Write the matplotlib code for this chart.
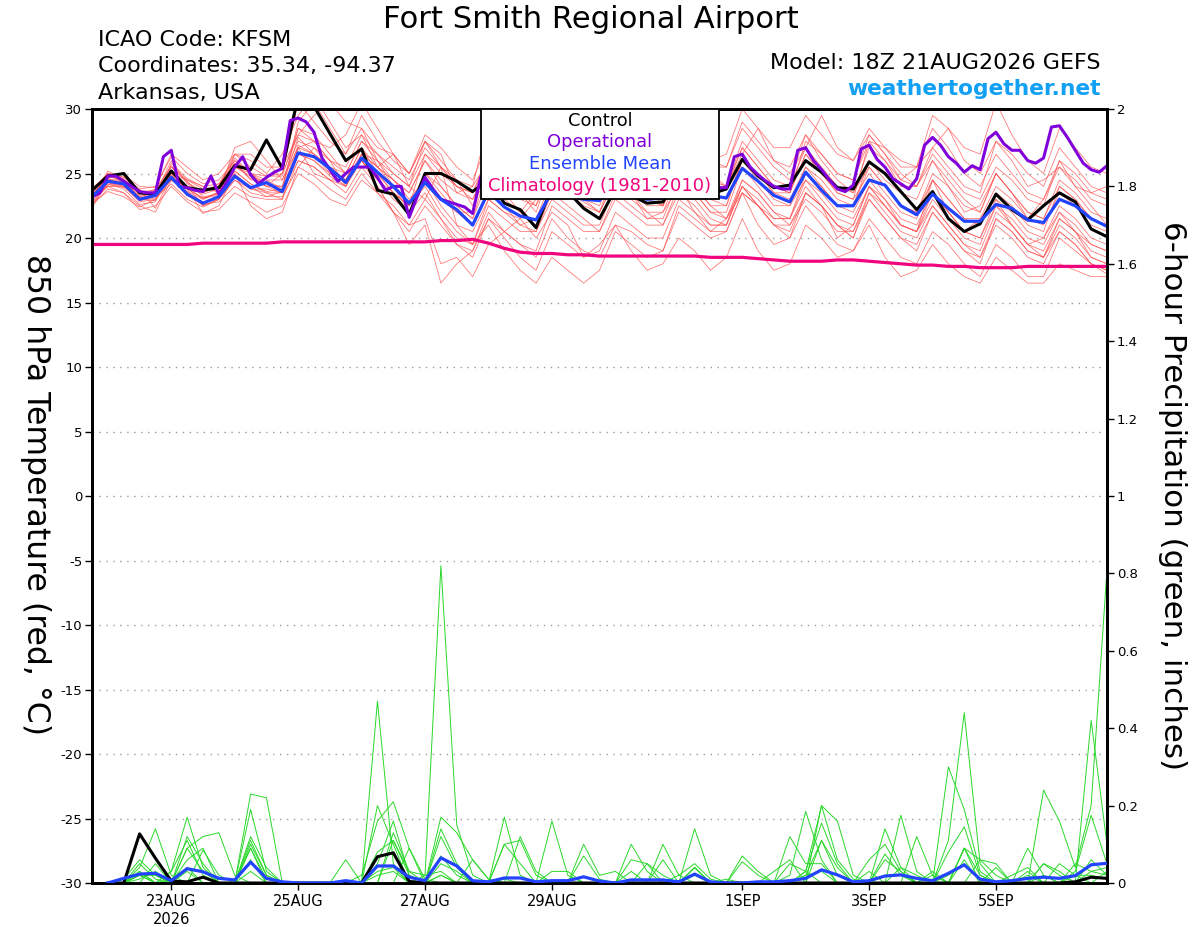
import numpy as np
import matplotlib
matplotlib.use("Agg")
import matplotlib.pyplot as plt
from matplotlib.patches import Rectangle
from datetime import datetime

# ---------------- data ----------------
run_time = datetime(2026, 8, 21, 18)
tick_dates = [datetime(2026, 8, 23), datetime(2026, 8, 25), datetime(2026, 8, 27),
              datetime(2026, 8, 29), datetime(2026, 9, 1), datetime(2026, 9, 3),
              datetime(2026, 9, 5)]
tick_labels = ["23AUG\n2026", "25AUG", "27AUG", "29AUG", "1SEP", "3SEP", "5SEP"]

# 850 hPa temperature, 6-hourly, 0..384 h
control = [23.7,24.8,25.0,23.5, 23.4,25.2,23.9,23.7, 23.9,25.6,25.3,27.6, 25.4,31.0,30.2,28.1,
           26.0,26.9,23.7,23.4, 21.8,25.0,25.0,24.4, 23.6,24.5,22.7,22.2, 20.8,24.0,23.6,22.3,
           21.5,23.8,23.3,22.7, 22.8,24.8,24.0,23.4, 23.8,26.1,24.8,23.9, 24.1,26.0,25.1,23.9,
           23.8,25.9,25.0,23.6, 22.2,23.6,21.5,20.5, 21.1,23.4,22.2,21.4, 22.5,23.5,22.8,20.7,
           20.1]
ens_mean = [23.2,24.4,24.2,23.0, 23.3,24.7,23.4,22.7, 23.2,24.8,23.9,24.3, 23.6,26.6,26.3,25.4,
            24.3,26.2,25.1,24.0, 22.7,24.3,23.0,22.2, 21.0,23.6,22.4,21.7, 21.4,23.6,23.3,23.0,
            22.9,24.3,23.5,23.0, 23.1,24.8,24.0,23.3, 23.1,25.4,24.4,23.3, 22.8,25.1,23.7,22.5,
            22.5,24.5,24.1,22.5, 21.8,23.4,22.3,21.3, 21.3,22.6,22.3,21.4, 21.2,23.0,22.5,21.5,
            20.9]
climatology = [19.5,19.5,19.5,19.5,19.5,19.5,19.5,19.6, 19.6,19.6,19.6,19.6,19.7,19.7,19.7,19.7,
               19.7,19.7,19.7,19.7,19.7,19.7,19.8,19.8, 19.9,19.6,19.2,18.9,18.8,18.8,18.7,18.7,
               18.6,18.6,18.6,18.6,18.6,18.6,18.6,18.5, 18.5,18.5,18.4,18.3,18.2,18.2,18.2,18.3,
               18.3,18.2,18.1,18.0,17.9,17.9,17.8,17.8, 17.7,17.7,17.7,17.8,17.8,17.8,17.8,17.8,
               17.8]
# operational run, 3-hourly
operational = [23.2,23.5,24.8,24.8,24.4,24.0,23.6,23.5, 23.5,26.3,26.8,24.0,23.9,23.7,23.6,24.8,
               23.4,24.3,25.5,26.3,24.9,24.2,24.7,25.1, 25.4,29.1,29.3,29.0,28.2,26.2,25.3,24.4,
               25.0,25.5,25.5,25.5,24.7,23.7,24.0,24.0, 21.6,23.2,24.7,23.8,23.0,22.8,22.6,22.4,
               21.9,24.7,25.0,25.2,24.8,24.5,24.0,23.8, 23.6,25.5,26.0,25.4,24.8,24.4,24.0,23.8,
               23.7,25.2,25.8,25.3,24.7,24.2,23.9,23.6, 23.5,25.0,25.6,25.2,24.6,24.2,23.9,23.9,
               23.9,26.3,26.5,25.5,24.9,24.4,24.0,23.8, 23.8,26.8,27.0,26.0,25.3,24.5,23.8,23.6,
               24.1,26.9,27.2,26.1,25.5,24.6,24.2,23.8, 24.6,27.2,27.8,27.2,26.3,25.8,25.1,25.6,
               25.3,27.7,28.2,27.3,26.8,26.8,26.0,25.8, 26.2,28.6,28.7,27.8,26.8,25.8,25.3,25.1,
               25.6]

# ensemble member temperatures (6-hourly)
mem01 = [23.0,25.2,24.5,23.1, 23.4,26.0,24.2,23.5, 24.0,26.5,25.5,24.8, 25.0,30.5,29.0,27.5, 26.5,28.5,26.0,24.5, 23.5,26.0,24.0,22.5, 21.5,24.5,23.0,22.0, 21.0,24.0,23.5,22.8, 22.0,25.5,24.5,23.0, 22.5,25.0,24.0,23.0, 22.5,26.0,25.0,23.5, 23.0,25.5,24.0,22.5, 22.0,24.5,23.0,21.5, 21.0,23.5,22.0,20.5, 20.0,22.5,21.5,20.0, 19.5,22.0,21.0,19.5, 19.0]
mem02 = [22.5,23.8,23.5,22.2, 22.5,24.0,22.8,22.0, 22.2,23.5,22.8,22.0, 22.5,25.0,24.2,23.0, 22.5,24.5,23.5,22.0, 20.5,22.5,21.0,19.5, 19.0,22.0,20.5,19.5, 18.5,21.5,20.0,19.0, 18.5,21.0,20.5,19.5, 19.0,22.5,21.5,20.5, 20.5,23.5,22.5,21.0, 21.0,23.0,22.0,20.5, 20.5,23.0,21.5,20.0, 19.5,22.0,20.5,19.0, 18.5,21.0,20.0,18.5, 18.0,20.5,19.5,18.0, 17.5]
mem03 = [23.5,24.8,24.4,23.4, 23.6,25.2,24.0,23.0, 23.5,25.5,24.8,24.0, 24.0,28.5,28.0,26.5, 25.0,27.5,26.0,25.0, 24.0,26.5,25.0,24.0, 23.5,26.5,25.5,24.5, 24.0,27.0,26.0,25.0, 24.5,28.0,27.0,25.5, 25.0,28.5,27.0,25.5, 25.5,29.0,27.5,26.0, 25.5,28.0,26.5,25.0, 24.5,27.5,26.0,24.5, 24.0,26.5,25.0,23.5, 23.0,25.5,24.5,23.0, 22.5,26.0,25.0,23.5, 23.0]
mem04 = [22.8,24.0,24.0,22.8, 23.0,24.5,23.5,22.5, 23.0,24.5,23.8,23.5, 23.0,27.0,27.5,26.0, 24.0,26.5,25.5,24.0, 22.0,23.5,21.5,19.5, 18.5,21.5,20.5,19.5, 19.0,22.5,21.5,20.5, 20.5,23.5,22.5,21.5, 21.5,24.5,23.5,22.0, 22.0,25.5,24.0,22.5, 22.5,24.5,23.0,21.5, 21.0,24.0,22.5,21.0, 20.5,23.0,21.5,20.0, 19.5,22.5,21.0,19.5, 19.0,21.5,20.5,19.0, 18.5]
mem05 = [23.4,24.6,24.3,23.2, 23.5,24.8,23.6,23.0, 23.6,25.8,24.5,24.5, 23.8,29.0,30.5,28.5, 26.5,29.5,27.5,26.0, 25.0,27.5,25.5,24.0, 23.0,25.5,24.0,23.0, 22.5,25.0,24.0,23.0, 22.5,25.5,24.5,23.5, 23.0,26.5,25.5,24.0, 24.0,27.5,26.0,24.5, 24.0,27.0,25.5,24.0, 23.5,25.5,24.0,22.5, 22.0,24.5,23.0,21.5, 21.5,24.0,23.0,21.5, 21.0,23.5,22.5,21.0, 20.5]
mem06 = [23.0,24.3,24.0,23.0, 23.2,24.6,23.3,22.6, 22.8,24.0,23.2,23.0, 23.0,26.0,25.5,24.5, 23.5,25.5,24.0,22.0, 19.5,21.0,16.5,18.0, 19.0,21.5,20.0,18.5, 17.5,20.5,19.5,18.5, 19.0,22.0,21.0,20.0, 20.0,23.0,22.0,21.0, 21.0,24.0,23.0,21.5, 21.5,24.5,23.5,22.0, 21.5,24.0,22.5,21.0, 20.5,23.5,22.0,20.5, 20.0,23.0,22.0,20.5, 20.0,22.5,21.5,20.0, 19.5]
mem07 = [23.2,24.5,24.5,23.5, 23.5,25.5,24.5,23.8, 24.0,26.0,25.0,24.5, 24.5,27.5,27.0,25.5, 24.5,27.0,25.5,24.5, 23.5,26.0,24.5,23.5, 23.0,25.5,24.5,23.5, 23.5,26.0,25.0,24.0, 24.5,27.5,26.5,25.5, 25.5,28.5,27.5,26.0, 26.5,30.0,28.5,27.0, 27.0,29.5,28.0,26.5, 26.0,28.5,27.0,25.5, 25.5,29.5,28.5,27.0, 26.5,30.5,28.0,26.0, 25.0,28.5,27.0,25.5, 25.0]
mem08 = [23.6,25.0,24.6,23.5, 23.3,24.9,24.0,23.4, 23.8,25.0,23.8,23.8, 23.5,26.5,26.0,25.0, 24.0,26.5,25.0,23.5, 22.5,24.5,23.0,22.0, 21.0,23.5,22.5,21.0, 20.5,23.0,22.0,21.0, 21.0,24.0,23.0,22.0, 22.0,25.0,23.5,22.0, 21.5,24.0,22.5,21.0, 20.0,22.5,21.0,19.5, 19.0,21.5,20.0,18.5, 18.0,20.5,19.5,18.0, 17.0,19.5,18.5,17.0, 17.0,20.0,19.0,18.0, 17.5]
mem09 = [22.6,24.2,23.8,22.6, 22.8,25.8,24.6,24.0, 24.2,26.2,25.0,24.2, 24.0,27.8,26.5,25.5, 24.5,26.0,24.5,23.0, 22.0,25.0,24.0,22.5, 21.5,25.5,24.5,23.5, 22.5,26.5,25.0,24.0, 23.5,27.0,25.5,24.5, 24.0,27.0,25.5,23.5, 23.0,26.0,24.5,23.0, 22.5,25.5,24.5,23.0, 22.5,26.0,24.5,23.5, 23.0,26.0,24.5,23.0, 22.0,25.0,23.5,22.0, 21.5,24.5,23.5,22.0, 21.5]
mem10 = [23.3,24.0,24.2,22.9, 23.1,24.2,23.0,22.4, 23.0,24.5,23.5,23.2, 23.2,25.5,24.8,23.8, 23.0,25.0,23.5,22.5, 21.0,23.0,21.5,20.0, 19.5,22.5,21.5,20.5, 20.5,23.5,22.5,21.5, 20.5,23.0,22.0,21.0, 21.0,24.0,23.0,21.5, 21.0,24.0,22.5,21.0, 20.5,23.5,22.5,21.0, 20.0,23.0,21.5,20.0, 19.0,22.0,20.5,19.0, 18.0,21.5,20.5,19.0, 18.5,21.0,20.0,18.5, 18.0]
mem11 = [23.8,24.9,24.3,23.3, 23.8,25.5,24.3,23.6, 24.2,25.8,24.6,24.0, 25.0,28.0,27.5,27.0, 28.0,30.5,28.5,26.5, 25.0,28.0,27.0,25.5, 24.5,27.5,26.0,25.0, 24.5,26.5,25.0,23.5, 23.0,26.0,25.0,23.5, 23.5,26.5,25.5,24.5, 24.0,27.0,25.5,24.0, 23.5,27.5,26.5,25.0, 24.5,28.0,26.5,25.0, 24.0,27.0,25.5,24.0, 23.5,27.5,26.5,25.0, 24.0,27.0,25.5,24.0, 23.5]
mem12 = [23.1,24.7,24.8,23.6, 23.7,25.6,24.4,23.2, 23.4,25.2,24.2,23.6, 23.8,27.2,26.5,25.0, 24.5,27.0,25.0,23.5, 22.5,25.0,23.5,22.0, 22.0,26.5,25.5,24.5, 23.5,26.0,24.5,23.0, 22.0,24.5,23.5,22.5, 22.5,25.5,24.0,22.5, 21.5,24.5,23.5,22.0, 21.5,24.0,22.5,21.0, 20.5,23.5,22.0,20.5, 20.0,22.5,21.0,19.5, 18.5,21.5,20.5,19.0, 18.5,21.5,20.5,19.5, 19.0]
mem13 = [23.5,24.5,24.0,23.0, 23.5,24.5,23.5,22.8, 23.0,25.5,25.0,24.0, 23.5,27.0,26.5,25.5, 25.0,27.5,26.5,25.0, 24.0,27.5,26.0,24.5, 24.0,29.0,27.0,25.0, 23.5,26.0,24.5,23.5, 23.0,25.5,24.5,23.0, 22.5,25.0,24.0,22.5, 22.5,26.0,25.0,23.5, 23.5,26.5,25.0,23.5, 23.0,25.0,23.5,22.0, 21.5,24.5,23.0,21.5, 21.0,23.5,22.5,21.0, 20.5,24.0,23.0,21.5, 21.0]
mem14 = [22.9,24.1,24.4,23.0, 22.9,24.8,23.8,23.1, 23.3,24.8,24.0,23.2, 23.6,26.0,25.5,24.5, 24.5,26.5,25.5,24.5, 23.0,24.5,22.5,21.0, 20.5,23.0,22.0,21.0, 21.5,24.5,23.5,22.5, 22.0,24.5,23.5,22.0, 21.0,23.5,22.5,21.0, 21.0,24.5,23.5,22.0, 21.0,23.5,22.5,21.0, 20.0,23.5,22.5,21.0, 20.5,22.5,21.0,19.5, 19.0,22.0,21.0,19.5, 18.5,20.5,19.5,18.0, 17.2]
mem15 = [23.7,24.6,24.1,23.2, 23.6,25.0,23.8,23.1, 23.5,25.2,24.2,23.5, 23.5,26.5,26.0,24.8, 24.0,26.0,24.5,23.5, 22.5,24.0,22.0,20.5, 19.5,21.0,19.0,17.5, 16.5,18.5,17.5,16.5, 17.5,20.5,19.5,18.5, 19.0,22.0,21.0,20.0, 20.5,23.5,22.5,21.5, 21.5,25.0,24.0,22.5, 22.5,25.5,24.0,22.5, 22.0,25.0,24.0,22.5, 22.0,25.0,23.5,22.0, 21.5,24.0,23.0,21.5, 21.0]
mem16 = [23.2,24.9,24.7,23.8, 24.0,26.3,25.0,24.2, 24.5,26.0,25.0,24.8, 24.8,28.5,27.5,26.0, 25.5,28.0,26.5,25.5, 24.5,27.0,25.5,24.0, 23.5,26.0,25.0,24.0, 24.0,27.5,26.5,25.5, 25.0,28.5,27.0,25.5, 24.5,27.5,26.0,24.5, 24.0,27.0,25.5,24.0, 23.5,26.5,25.0,23.5, 23.0,27.5,27.0,26.0, 25.5,28.5,27.0,25.0, 24.0,26.5,25.0,23.5, 23.0,25.5,24.5,23.0, 22.5]
mem17 = [23.2,24.0,23.5,22.5, 22.0,24.5,24.0,22.5, 23.0,26.5,26.0,25.0, 26.5,29.5,31.0,29.0, 27.0,28.0,25.5,26.5, 24.0,23.0,25.5,24.5, 22.5,25.0,26.5,23.5, 22.0,25.5,27.0,24.0, 23.0,28.5,26.0,24.0, 22.5,26.0,27.5,25.0, 24.0,26.5,28.5,26.0, 25.0,27.0,29.5,27.0, 26.0,28.0,26.5,24.5, 25.5,27.0,28.5,26.0, 25.0,27.5,26.0,24.0, 24.5,25.5,24.0,23.5, 24.0]
mem18 = [22.4,24.3,23.9,23.8, 22.3,24.8,23.8,21.9, 22.5,25.0,22.5,21.5, 22.0,25.5,27.0,26.0, 25.0,26.0,24.0,22.0, 21.0,21.5,18.0,18.5, 17.0,19.5,20.5,21.5, 20.0,22.0,21.0,18.5, 19.5,21.0,19.0,17.5, 18.0,20.0,19.0,17.5, 18.5,21.5,19.0,17.5, 18.0,21.0,20.0,18.5, 19.0,21.0,18.5,17.0, 17.5,19.5,18.0,17.0, 16.5,18.5,17.5,16.5, 16.5,18.0,17.5,17.0, 17.0]
mem19 = [23.8,25.0,24.9,24.0, 23.9,26.5,25.5,24.5, 25.0,26.5,26.5,25.5, 25.5,28.0,29.5,30.5, 29.0,28.5,27.0,26.5, 25.0,27.5,26.5,23.5, 24.0,26.0,23.5,22.0, 23.5,27.5,25.5,23.0, 24.5,26.0,23.5,21.5, 22.0,24.0,22.0,20.5, 21.5,23.5,21.0,19.5, 20.0,23.5,22.5,20.0, 21.0,24.0,23.0,21.0, 20.5,24.5,22.0,20.5, 21.5,23.0,21.0,19.5, 20.0,22.0,20.5,18.5, 18.0]
mem20 = [22.7,23.6,23.2,22.4, 23.0,25.0,24.5,24.0, 23.5,27.0,27.5,26.0, 24.5,27.0,25.0,24.5, 24.0,26.5,26.0,24.0, 22.5,26.5,25.5,21.0, 19.5,23.0,22.0,21.5, 23.0,28.0,27.0,25.5, 23.5,26.5,26.0,25.0, 24.0,27.5,26.5,26.0, 25.5,28.5,27.0,25.5, 24.5,28.0,26.0,24.5, 23.5,27.0,26.0,24.0, 24.0,26.0,24.0,22.0, 22.5,25.0,23.5,21.5, 23.0,26.0,24.0,22.5, 21.0]
members_t = [mem01, mem02, mem03, mem04, mem05, mem06, mem07, mem08, mem09, mem10,
             mem11, mem12, mem13, mem14, mem15, mem16, mem17, mem18, mem19, mem20]

# 6-hour precipitation (inches), valid at 6..384 h
precip_control = [0,0,.127,.064,.005,.003,.015,0, 0,0,0,0,0,0,0,0,
                  0,.068,.078,.004,0,0,0,0, 0,0,0,0,0,0,0,0,
                  0,0,0,0,0,0,0,0, 0,0,0,0,0,0,0,0,
                  0,0,0,0,0,0,0,0, 0,0,0,0,0,.003,.015,.012]
precip_mean = [0,.012,.023,.025,.006,.037,.029,.012, .008,.054,.012,.003,0,0,0,.006,
               0,.044,.044,.015,.006,.065,.044,.006, .003,.013,.013,.003,.006,.006,.016,.005,
               0,.008,.008,.008,.003,.023,.003,0, 0,.003,.003,.006,.012,.034,.021,.003,
               .006,.018,.021,.012,.006,.025,.047,.010, .003,.006,.012,.015,.012,.019,.047,.051]
pm01 = [0,0,.04,.14,.02,0,0,0, 0,.10,.02,0,0,0,0,0,
        0,.47,.05,0,0,.07,.02,0, 0,.17,.02,0,0,0,0,0,
        0,0,0,0,0,.04,0,0, 0,0,0,0,.02,.11,.02,0,
        0,0,0,0,0,0,.09,.02, 0,0,0,0,0,0,.03,.02]
pm02 = [0,0,.02,0,0,.12,.05,0, 0,.23,.22,0,0,0,0,0,
        0,0,.13,.03,.02,.82,.15,.02, 0,0,0,0,0,0,0,0,
        0,0,0,.10,.02,0,0,0, 0,0,0,.02,.185,.06,0,0,
        0,0,.175,.03,0,0,0,0, 0,0,0,.05,.02,0,0,0]
pm03 = [0,.01,.06,.02,0,.09,.12,.13, .02,0,0,0,0,0,0,0,
        0,.20,.10,0,0,.14,.05,0, 0,0,0,0,0,0,0,0,
        0,.06,.05,0,0,0,0,0, 0,0,0,0,0,.20,.16,.02,
        0,0,0,0,0,.11,.44,.05, 0,0,0,0,0,.03,.175,.05]
pm04 = [0,0,.03,0,.03,.17,.04,0, 0,.19,.03,0,0,0,0,0,
        .02,.16,.21,.09,.01,0,0,0, 0,.10,.11,.02,0,0,0,0,
        0,.10,.03,0,0,0,0,0, .07,.03,0,0,.03,.155,.05,0,
        0,.14,.04,0,0,.30,.19,.03, 0,0,.09,.02,0,0,.42,.10]
pm05 = [0,0,0,.05,0,.09,.03,0, 0,.12,.04,0,0,0,0,0,
        0,.05,.16,.02,0,.17,.13,.06, .01,0,0,0,.16,.02,0,0,
        0,0,0,0,0,.14,.02,0, 0,0,0,.12,.05,.05,0,0,
        0,0,0,.12,.02,0,0,.06, .02,0,0,.24,.16,.04,.20,.81]
pm06 = [0,0,.02,.02,0,.06,.09,0, 0,.11,.02,0,0,0,0,.06,
        0,0,.11,.03,0,.05,.03,0, 0,0,0,0,0,0,.10,.02,
        .03,0,0,.06,0,.04,0,0, .055,.02,0,0,0,0,0,0,
        .06,.10,.03,0,0,0,.09,0, 0,0,.03,0,.05,.02,0,0]
pm07 = [0,0,.03,0,.01,.04,0,0, 0,.09,.01,0,0,0,0,0,
        0,.08,.11,.02,0,.12,.04,0, 0,0,.12,.03,0,0,.07,.01,
        0,0,0,0,0,.04,0,0, 0,0,.03,.06,0,.11,.04,0,
        0,.075,.02,0,0,.08,.145,.02, 0,.02,.04,0,0,0,.06,.02]
pm08 = [0,0,.05,.01,0,0,.085,.02, 0,.09,0,0,0,0,0,0,
        0,0,0,.09,0,.02,0,0, 0,.10,.05,0,0,0,0,0,
        0,0,.05,.02,0,0,0,0, 0,0,0,0,.03,.20,.06,.01,
        0,.06,.03,0,.02,0,.09,.06, .05,0,0,.02,0,.05,.03,.04]
pm09 = [0,0,.02,0,.03,.11,.02,0, 0,.06,0,0,0,0,0,0,
        0,.03,.04,0,0,.02,0,.06, .01,0,0,0,0,0,0,0,
        0,0,0,0,.02,.05,.01,0, 0,0,0,.05,.03,0,0,0,
        .03,0,.04,.02,0,.02,.05,.01, 0,0,0,.05,.03,0,0,.03]
pm10 = [0,0,.01,.03,0,.03,0,0, 0,.03,0,0,0,0,0,0,
        0,.02,.03,0,.02,.03,0,0, 0,.01,0,0,.03,.03,0,0,
        0,.03,0,0,0,.02,0,.01, 0,0,0,0,.02,.03,0,0,
        0,.02,.02,0,.03,0,.06,0, .04,0,.02,0,0,.02,.02,.01]
members_p = [pm01, pm02, pm03, pm04, pm05, pm06, pm07, pm08, pm09, pm10]

# ---------------- figure ----------------
plt.rcParams['font.family'] = ['DejaVu Sans']
fig = plt.figure(figsize=(12, 9.27), dpi=100)
W, H = 1200, 927
ax = fig.add_axes([92 / W, 1 - 883 / H, (1107 - 92) / W, (883 - 109) / H])
ax2 = ax.twinx()

hrs6 = np.arange(len(control)) * 6
hrs3 = np.arange(len(operational)) * 3
hrs_p = np.arange(1, len(precip_control) + 1) * 6

RED = '#ff4f4f'
GREEN = '#2ad82a'
PURPLE = '#8000dc'
BLUE = '#2244ff'
PINK = '#f0057f'

for m in members_t:
    ax.plot(hrs6, m, color=RED, lw=0.55, alpha=0.8, zorder=2)
ax.plot(hrs6, climatology, color=PINK, lw=2.3, zorder=3)
ax.plot(hrs6, control, color='black', lw=2.2, zorder=4)
ax.plot(hrs3, operational, color=PURPLE, lw=2.2, zorder=4)
ax.plot(hrs6, ens_mean, color=BLUE, lw=2.3, zorder=5)

for m in members_p:
    ax2.plot(hrs_p, m, color=GREEN, lw=0.7, zorder=2)
ax2.plot(hrs_p, precip_control, color='black', lw=2.2, zorder=4)
ax2.plot(hrs_p, precip_mean, color=BLUE, lw=2.3, zorder=5)

ax.set_xlim(0, 384)
ax.set_ylim(-30, 30)
ax2.set_ylim(0, 2)
ax.set_yticks(np.arange(-30, 31, 5))
ax.set_yticklabels([f"{v:d}" for v in np.arange(-30, 31, 5)])
pt = np.round(np.arange(0, 2.01, 0.2), 1)
ax2.set_yticks(pt)
ax2.set_yticklabels([f"{v:g}" for v in pt])

tick_hours = [(d - run_time).total_seconds() / 3600 for d in tick_dates]
ax.set_xticks(tick_hours)
ax.set_xticklabels(tick_labels)

ax.set_axisbelow(True)
ax.yaxis.grid(True, linestyle=(0, (1, 4)), color='#9a9a9a', lw=1.0)
ax.tick_params(axis='y', direction='out', length=5, width=1, labelsize=9.5, pad=2)
ax.tick_params(axis='x', direction='out', length=5, width=1, labelsize=10.5, pad=3)
ax2.tick_params(axis='y', direction='out', length=5, width=1, labelsize=9.5, pad=2)
for a in (ax, ax2):
    for s in a.spines.values():
        s.set_linewidth(2.0)
        s.set_color('black')

# labels
fig.text(35 / W, 1 - 495 / H, "850 hPa Temperature (red, \u00b0C)", rotation=-90,
         ha='center', va='center', fontsize=22.7)
fig.text(1172 / W, 1 - 496 / H, "6-hour Precipitation (green, inches)", rotation=-90,
         ha='center', va='center', fontsize=22.3)

# header
fig.text(591 / W, 1 - 19 / H, "Fort Smith Regional Airport", ha='center', va='center', fontsize=22.1)
fig.text(98 / W, 1 - 40 / H, "ICAO Code: KFSM", ha='left', va='center', fontsize=16)
fig.text(98 / W, 1 - 66 / H, "Coordinates: 35.34, -94.37", ha='left', va='center', fontsize=16)
fig.text(98 / W, 1 - 93 / H, "Arkansas, USA", ha='left', va='center', fontsize=16)
fig.text(1101 / W, 1 - 63 / H, "Model: 18Z 21AUG2026 GEFS", ha='right', va='center', fontsize=16)
fig.text(1101 / W, 1 - 89 / H, "weathertogether.net", ha='right', va='center', fontsize=15.7,
         fontweight='bold', color='#12a0f5')

# legend box
fig.patches.append(Rectangle((481 / W, 1 - 199 / H), (719 - 481) / W, (199 - 109) / H,
                             transform=fig.transFigure, facecolor='white', edgecolor='black',
                             lw=1.3, zorder=10))
leg_items = [("Control", 'black', 121), ("Operational", PURPLE, 142),
             ("Ensemble Mean", BLUE, 164), ("Climatology (1981-2010)", PINK, 186)]
for txt, col, yy in leg_items:
    fig.text(600 / W, 1 - yy / H, txt, ha='center', va='center', fontsize=12.9,
             color=col, zorder=11)

fig.savefig("out.png", dpi=100)
